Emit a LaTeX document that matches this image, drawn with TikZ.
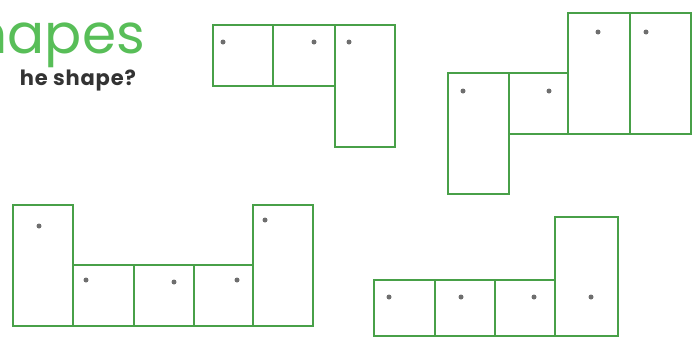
\documentclass[tikz,border=0pt]{standalone}
\usepackage{fontspec}
\setmainfont{Poppins}
\definecolor{shapegreen}{RGB}{72,160,72}
\definecolor{titlegreen}{RGB}{88,190,88}
\definecolor{dotgray}{RGB}{110,110,110}
\begin{document}
\begin{tikzpicture}[
    x=1pt, y=-1pt,
    line width=2.2pt,
    color=shapegreen,
    cell/.style={draw=shapegreen, line join=miter},
    dot/.style={circle, fill=dotgray, inner sep=0pt, minimum size=5pt}
]
    \useasboundingbox (0,0) rectangle (700,338);

    % --- TITLE (cut off at the left edge) ---
    \node[anchor=base east, text=titlegreen, font=\fontsize{55}{55}\selectfont, inner sep=0pt]
        (title) at (146,53) {hapes};
    \node[anchor=base east, text=black!80, font=\fontsize{21}{21}\selectfont\bfseries\addfontfeature{LetterSpace=4}, inner sep=0pt]
        (question) at (137,85) {he shape?};

    % --- SHAPE A (top middle) ---
    \draw[cell] (213,25) rectangle (273,86);
    \draw[cell] (273,25) rectangle (335,86);
    \draw[cell] (335,25) rectangle (395,147);
    \node[dot] (a1) at (223,42) {};
    \node[dot] (a2) at (314,42) {};
    \node[dot] (a3) at (349,42) {};

    % --- SHAPE B (top right) ---
    \draw[cell] (448,73) rectangle (509,194);
    \draw[cell] (509,73) rectangle (568,134);
    \draw[cell] (568,13) rectangle (630,134);
    \draw[cell] (630,13) rectangle (691,134);
    \node[dot] (b1) at (463,91) {};
    \node[dot] (b2) at (549,91) {};
    \node[dot] (b3) at (598,32) {};
    \node[dot] (b4) at (646,32) {};

    % --- SHAPE C (bottom left) ---
    \draw[cell] (13,205) rectangle (73,326);
    \draw[cell] (73,265) rectangle (134,326);
    \draw[cell] (134,265) rectangle (194,326);
    \draw[cell] (194,265) rectangle (253,326);
    \draw[cell] (253,205) rectangle (313,326);
    \node[dot] (c1) at (39,226) {};
    \node[dot] (c2) at (86,280) {};
    \node[dot] (c3) at (174,282) {};
    \node[dot] (c4) at (237,280) {};
    \node[dot] (c5) at (265,220) {};

    % --- SHAPE D (bottom right) ---
    \draw[cell] (374,280) rectangle (435,336);
    \draw[cell] (435,280) rectangle (495,336);
    \draw[cell] (495,280) rectangle (555,336);
    \draw[cell] (555,217) rectangle (618,336);
    \node[dot] (d1) at (389,297) {};
    \node[dot] (d2) at (461,297) {};
    \node[dot] (d3) at (534,297) {};
    \node[dot] (d4) at (591,297) {};

\end{tikzpicture}
\end{document}
